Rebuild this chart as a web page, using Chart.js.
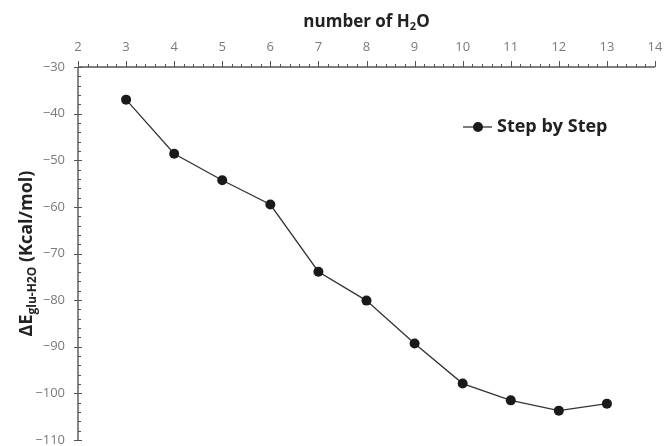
<!DOCTYPE html>
<html>
<head>
<meta charset="utf-8">
<script src="https://cdn.jsdelivr.net/npm/chart.js@4.4.1/dist/chart.umd.min.js"></script>
<style>
  html, body { margin: 0; padding: 0; background: #fff; }
  #wrap { width: 664px; height: 446px; }
</style>
</head>
<body>
<div id="wrap"><canvas id="chart" width="664" height="446"></canvas></div>
<script>
const waters = [3, 4, 5, 6, 7, 8, 9, 10, 11, 12, 13];
const energies = [-37.0, -48.6, -54.3, -59.5, -73.9, -80.1, -89.3, -97.9, -101.5, -103.7, -102.2];
const seriesName = "Step by Step";
const xRange = [2, 14];
const yRange = [-110, -30];

const FONT = "'Open Sans', 'Noto Sans', sans-serif";
const AXIS = "#555";

function minus(v) {
    return v < 0 ? "\u2212" + Math.abs(v) : String(v);
}

// draws the axis lines, minor ticks, titles and legend
const decor = {
    id: "decor",
    afterDraw(chart) {
        const ctx = chart.ctx;
        const sx = chart.scales.x, sy = chart.scales.y;
        const top = sy.top, left = sx.left;
        ctx.save();
        ctx.strokeStyle = AXIS;
        ctx.lineWidth = 1.4;
        ctx.beginPath();
        ctx.moveTo(left, top);
        ctx.lineTo(sx.right, top);
        ctx.moveTo(left, top);
        ctx.lineTo(left, sy.bottom);
        ctx.stroke();

        ctx.lineWidth = 1;
        ctx.beginPath();
        for (let i = 0; i <= 60; i++) {
            const px = Math.round(sx.getPixelForValue(xRange[0] + i * 0.2)) + 0.5;
            const len = i % 5 === 0 ? 6 : 3;
            ctx.moveTo(px, top);
            ctx.lineTo(px, top - len);
        }
        for (let i = 0; i <= 40; i++) {
            const py = Math.round(sy.getPixelForValue(yRange[0] + i * 2)) + 0.5;
            if (i % 5 === 0) {
                ctx.moveTo(left - 4, py);
                ctx.lineTo(left + 4, py);
            } else {
                ctx.moveTo(left, py);
                ctx.lineTo(left + 3, py);
            }
        }
        ctx.stroke();

        // x title
        ctx.fillStyle = "#222";
        ctx.textBaseline = "alphabetic";
        const big = "bold 17px " + FONT, small = "bold 11px " + FONT;
        const cx = (sx.left + sx.right) / 2;
        ctx.font = big;
        const w1 = ctx.measureText("number of H").width;
        const w3 = ctx.measureText("O").width;
        ctx.font = small;
        const w2 = ctx.measureText("2").width;
        let tx = cx - (w1 + w2 + w3) / 2;
        const ty = 27;
        ctx.font = big;
        ctx.fillText("number of H", tx, ty);
        ctx.font = small;
        ctx.fillText("2", tx + w1, ty + 3);
        ctx.font = big;
        ctx.fillText("O", tx + w1 + w2, ty);

        // y title, rotated
        const ybig = "bold 18px " + FONT, ysmall = "bold 12px " + FONT;
        ctx.save();
        ctx.translate(32, (sy.top + sy.bottom) / 2);
        ctx.rotate(-Math.PI / 2);
        const parts = [["\u0394E", ybig, 0], ["glu-H2O", ysmall, 4], [" (Kcal/mol)", ybig, 0]];
        let total = 0;
        parts.forEach(p => { ctx.font = p[1]; total += ctx.measureText(p[0]).width; });
        let px = -total / 2;
        parts.forEach(p => {
            ctx.font = p[1];
            ctx.fillText(p[0], px, p[2]);
            px += ctx.measureText(p[0]).width;
        });
        ctx.restore();

        // legend
        const lx = 463, ly = 127;
        ctx.strokeStyle = "#333";
        ctx.lineWidth = 1.3;
        ctx.beginPath();
        ctx.moveTo(lx, ly);
        ctx.lineTo(lx + 29, ly);
        ctx.stroke();
        ctx.fillStyle = "#1a1a1a";
        ctx.beginPath();
        ctx.arc(lx + 15, ly, 5, 0, Math.PI * 2);
        ctx.fill();
        ctx.fillStyle = "#222";
        ctx.font = "bold 18px " + FONT;
        ctx.textBaseline = "middle";
        ctx.fillText(seriesName, lx + 34, ly);
        ctx.restore();
    }
};

new Chart(document.getElementById("chart"), {
    type: "line",
    data: {
        datasets: [{
            label: seriesName,
            data: waters.map((x, i) => ({ x: x, y: energies[i] })),
            borderColor: "#333",
            borderWidth: 1.3,
            backgroundColor: "#1a1a1a",
            pointBackgroundColor: "#1a1a1a",
            pointBorderWidth: 0,
            pointRadius: 5,
            tension: 0,
            fill: false
        }]
    },
    options: {
        responsive: false,
        animation: false,
        layout: { padding: { left: 0, right: 9, top: 0, bottom: 6 } },
        plugins: { legend: { display: false }, tooltip: { enabled: false } },
        scales: {
            x: {
                type: "linear",
                position: "top",
                min: xRange[0],
                max: xRange[1],
                grid: { display: false },
                border: { display: false },
                ticks: {
                    stepSize: 1,
                    padding: 4,
                    color: "#7a7a7a",
                    font: { family: FONT, size: 13 }
                },
                afterFit(scale) {
                    scale.height = 67;
                    scale.paddingLeft = 0;
                    scale.paddingRight = 0;
                }
            },
            y: {
                type: "linear",
                min: yRange[0],
                max: yRange[1],
                grid: { display: false },
                border: { display: false },
                ticks: {
                    stepSize: 10,
                    padding: 5,
                    color: "#7a7a7a",
                    font: { family: FONT, size: 13 },
                    callback: v => minus(v)
                },
                afterFit(scale) {
                    scale.width = 78;
                    scale.paddingTop = 0;
                    scale.paddingBottom = 0;
                }
            }
        }
    },
    plugins: [decor]
});
</script>
</body>
</html>
